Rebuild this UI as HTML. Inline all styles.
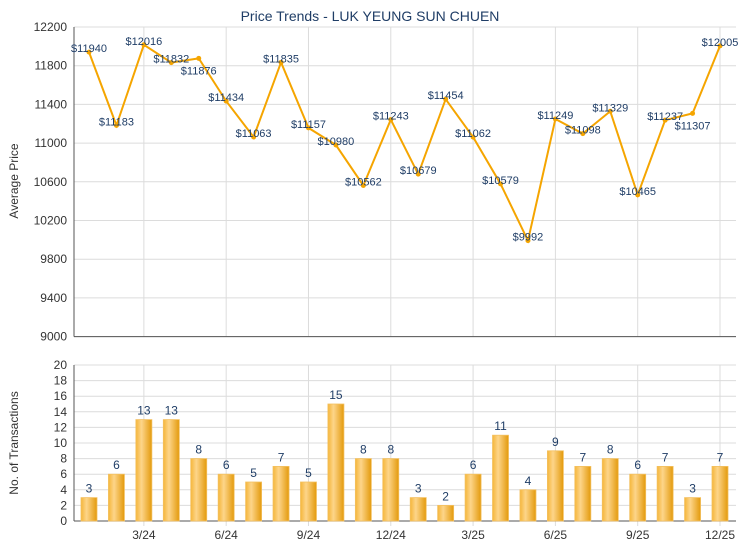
<!DOCTYPE html>
<html><head><meta charset="utf-8"><style>body{margin:0;background:#fff}svg{display:block;font-family:"Liberation Sans",sans-serif}</style></head><body>
<svg id="s" width="740" height="550" xmlns="http://www.w3.org/2000/svg"></svg>
<script>
const P=[11940,11183,12016,11832,11876,11434,11063,11835,11157,10980,10562,11243,10679,11454,11062,10579,9992,11249,11098,11329,10465,11237,11307,12005];
const C=[3,6,13,13,8,6,5,7,5,15,8,8,3,2,6,11,4,9,7,8,6,7,3,7];
const X=i=>89+i*27.435;
const L=74,R=736,T1=27,B1=336.6,T2=365,B2=521;
const yp=v=>T1+(12200-v)/3200*(B1-T1), yc=v=>B2-v/20*(B2-T2);
let s='<defs><linearGradient id="g" x1="0" x2="1"><stop offset="0" stop-color="#f5b63a"/><stop offset="0.35" stop-color="#fdd58a"/><stop offset="1" stop-color="#e39a0c"/></linearGradient></defs>';
s+='<text x="370" y="21" text-anchor="middle" font-size="14" fill="#1f3d66">Price Trends - LUK YEUNG SUN CHUEN</text>';
for(let v=9000;v<=12200;v+=400){const y=yp(v);s+=`<line x1="${L}" x2="${R}" y1="${y}" y2="${y}" stroke="#dcdcdc"/><text x="${L-7}" y="${y+4}" text-anchor="end" font-size="12" fill="#333">${v}</text>`;}
for(let v=0;v<=20;v+=2){const y=yc(v);s+=`<line x1="${L}" x2="${R}" y1="${y}" y2="${y}" stroke="#dcdcdc"/><text x="${L-7}" y="${y+4}" text-anchor="end" font-size="12" fill="#333">${v}</text>`;}
const lab=['3/24','6/24','9/24','12/24','3/25','6/25','9/25','12/25'];
for(let k=0;k<8;k++){const x=X(2+3*k);s+=`<line x1="${x}" x2="${x}" y1="${T1}" y2="${B1}" stroke="#dcdcdc"/><line x1="${x}" x2="${x}" y1="${T2}" y2="${B2+5}" stroke="#dcdcdc"/><text x="${x}" y="${B2+18}" text-anchor="middle" font-size="12" fill="#333">${lab[k]}</text>`;}
s+=`<line x1="${L}" x2="${L}" y1="${T1}" y2="${B1}" stroke="#555"/><line x1="${L}" x2="${R}" y1="${B1}" y2="${B1}" stroke="#555"/>`;
s+=`<line x1="${L}" x2="${L}" y1="${T2}" y2="${B2}" stroke="#555"/><line x1="${L}" x2="${R}" y1="${B2}" y2="${B2}" stroke="#555"/>`;
s+=`<text transform="translate(18,181) rotate(-90)" text-anchor="middle" font-size="12" fill="#333">Average Price</text>`;
s+=`<text transform="translate(18,443) rotate(-90)" text-anchor="middle" font-size="12" fill="#333">No. of Transactions</text>`;
s+=`<polyline fill="none" stroke="#f5a500" stroke-width="2" points="${P.map((v,i)=>X(i)+','+yp(v)).join(' ')}"/>`;
P.forEach((v,i)=>{const x=X(i),y=yp(v);s+=`<circle cx="${x}" cy="${y}" r="2.5" fill="#f5a500"/>`;const dy=(i==4||i==22)?16:0;s+=`<text x="${x}" y="${y+dy}" text-anchor="middle" font-size="11" fill="#1f3d66">$${v}</text>`;});
C.forEach((v,i)=>{const x=X(i),y=yc(v);s+=`<rect x="${x-8}" y="${y}" width="16" height="${B2-y}" fill="url(#g)" stroke="#f3c060" stroke-width="0.8"/><text x="${x}" y="${y-5}" text-anchor="middle" font-size="12" fill="#1f3d66">${v}</text>`;});
document.getElementById('s').innerHTML=s;
</script>
</body></html>
